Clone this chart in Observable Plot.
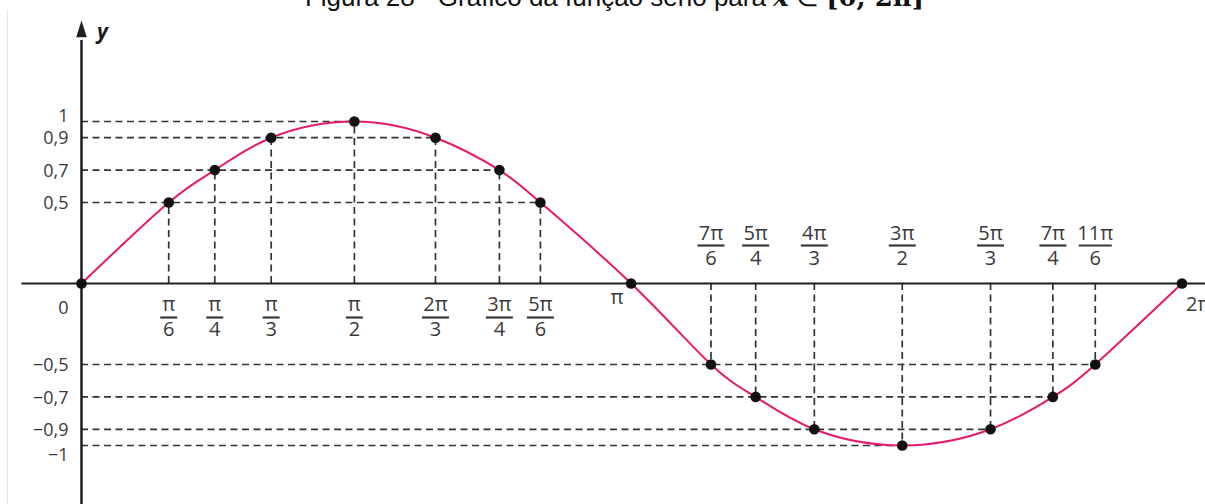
<!DOCTYPE html>
<html>
<head>
<meta charset="utf-8">
<script src="https://cdn.jsdelivr.net/npm/d3@7"></script>
<script src="https://cdn.jsdelivr.net/npm/@observablehq/plot@0.6"></script>
<style>
  html, body { margin: 0; padding: 0; background: #fff; width: 1205px; height: 504px; overflow: hidden; position: relative; }
  #chart { position: absolute; top: 0; left: 0; }
  #title { position: absolute; top: -16px; left: 0; width: 1205px; padding-left: 24px; box-sizing: border-box; text-align: center; font: 26px/26px "Liberation Sans", Arial, sans-serif; color: #111; white-space: nowrap; z-index: 2; }
  #title .var { font-family: "DejaVu Serif", serif; font-style: italic; font-weight: bold; }
  #title .int { font-family: "DejaVu Serif", serif; font-weight: bold; }
  #edge { position: absolute; left: 7px; top: 10px; bottom: 0; border-left: 1px solid #e6e6e6; z-index: 2; }
</style>
</head>
<body>
<div id="chart"></div>
<div id="title">Figura 28 - Gráfico da função seno para <span class="var">x</span> ∈ <span class="int">[0, 2π]</span></div>
<div id="edge"></div>
<script>
// Angles labelled as fractions of π (numerator / denominator)
const angleNum = [0, 1, 1, 1, 1, 2, 3, 5, 1, 7, 5, 4, 3, 5, 7, 11, 2];
const angleDen = [1, 6, 4, 3, 2, 3, 4, 6, 1, 6, 4, 3, 2, 3, 4, 6, 1];
// where each point is drawn along the x axis (radians)
const angleRead = [0, 0.498, 0.761, 1.083, 1.558, 2.021, 2.386, 2.620, 3.138, 3.594, 3.849, 4.184, 4.686, 5.190, 5.546, 5.788, 6.283];
// sine values as labelled in the figure
const sineValues = [0, 0.5, 0.7, 0.9, 1, 0.9, 0.7, 0.5, 0, -0.5, -0.7, -0.9, -1, -0.9, -0.7, -0.5, 0];
// y tick labels
const yTickValues = [1, 0.9, 0.7, 0.5, 0, -0.5, -0.7, -0.9, -1];
const yTickLabels = ["1", "0,9", "0,7", "0,5", "0", "−0,5", "−0,7", "−0,9", "−1"];

const TWO_PI = 2 * Math.PI;
const pts = angleNum.map((n, i) => ({num: n, den: angleDen[i], x: angleRead[i], y: sineValues[i]}));

// horizontal guides: from y axis to farthest point at each level
const guides = Array.from(
  d3.rollup(pts.filter(d => d.y !== 0), v => d3.max(v, d => d.x), d => d.y),
  ([y, xEnd]) => ({y, xEnd})
);
const verticals = pts.filter(d => d.y !== 0);
const fracs = pts.filter(d => d.den > 1);
const fracBelow = fracs.filter(d => d.y > 0);
const fracAbove = fracs.filter(d => d.y < 0);
const numText = d => (d.num === 1 ? "" : d.num) + "π";

const barSymbol = {
  draw(ctx, size) {
    const w = Math.sqrt(size / Math.PI);
    ctx.moveTo(-w, 0); ctx.lineTo(w, 0);
  }
};
const arrowSymbol = {
  draw(ctx, size) {
    const r = Math.sqrt(size / Math.PI);
    ctx.moveTo(0, -r * 1.3); ctx.lineTo(r * 0.75, r * 1.1); ctx.lineTo(-r * 0.75, r * 1.1); ctx.closePath();
  }
};
const barHalf = d => d.num > 9 ? 16.5 : d.num > 1 ? 13.5 : 8.5;

const FONT = "'Open Sans', 'Noto Sans', sans-serif";
const LABEL = "#3a3a3a";
const AXIS = "#1f1f1f";
const dash = {stroke: "#333", strokeWidth: 1.7, strokeDasharray: "7,4.5"};

function fracMarks(data, numDy, barDy, denDy) {
  return [
    Plot.text(data, {x: "x", y: () => 0, text: numText, dy: numDy, fill: LABEL, fontSize: 20}),
    Plot.dot(data, {x: "x", y: () => 0, r: barHalf, symbol: barSymbol, stroke: LABEL, strokeWidth: 2.2, fill: "none", dy: barDy}),
    Plot.text(data, {x: "x", y: () => 0, text: d => String(d.den), dy: denDy, fill: LABEL, fontSize: 20})
  ];
}

const yLab = yTickValues.map((v, i) => ({y: v, label: yTickLabels[i]}));
const yText = (filter, dy) => Plot.text(yLab.filter(filter), {x: () => 0, y: "y", text: "label", textAnchor: "end", dx: -13, dy, fill: LABEL, fontSize: 18});

const chart = Plot.plot({
  width: 1205,
  height: 504,
  marginLeft: 81,
  marginRight: 23.5,
  marginTop: 121,
  marginBottom: 59,
  x: {domain: [0, TWO_PI], axis: null},
  y: {domain: [-1, 1], axis: null},
  r: {type: "identity"},
  style: {fontFamily: FONT, fontSize: "18px", background: "white", overflow: "visible"},
  marks: [
    Plot.ruleY(guides, {y: "y", x1: 0, x2: "xEnd", ...dash}),
    Plot.ruleX(verticals, {x: "x", y1: 0, y2: "y", ...dash}),
    Plot.ruleY([0], {x1: -0.34, x2: TWO_PI + 0.2, stroke: AXIS, strokeWidth: 2.2}),
    Plot.ruleX([0], {y1: -1.4, y2: 1.5, stroke: AXIS, strokeWidth: 2.5}),
    Plot.dot([0], {x: 0, y: () => 1.568, r: 7, symbol: arrowSymbol, fill: AXIS}),
    Plot.text([0], {x: 0, y: () => 1.568, text: () => "y", dx: 21, dy: 3, fontSize: 21, fontWeight: "bold", fontStyle: "italic", fill: "#1a1a1a"}),
    Plot.line(pts, {x: "x", y: "y", curve: "natural", stroke: "#e6196e", strokeWidth: 2}),
    Plot.dot(pts, {x: "x", y: "y", r: 5.3, fill: "#111"}),
    // y tick labels
    yText(d => Math.abs(d.y) < 1 && d.y !== 0, 1),
    yText(d => d.y === 1, -5),
    yText(d => d.y === -1, 10),
    yText(d => d.y === 0, 25),
    // π and 2π labels
    Plot.text(pts.filter(d => d.num === 1 && d.den === 1), {x: "x", y: () => 0, text: numText, dx: -14, dy: 14, fill: LABEL, fontSize: 20}),
    Plot.text(pts.filter(d => d.num === 2 && d.den === 1), {x: "x", y: () => 0, text: numText, textAnchor: "start", dx: 4, dy: 21, fill: LABEL, fontSize: 20}),
    ...fracMarks(fracBelow, 21, 34, 46.5),
    ...fracMarks(fracAbove, -50, -38, -25)
  ]
});
document.getElementById("chart").appendChild(chart);
</script>
</body>
</html>
